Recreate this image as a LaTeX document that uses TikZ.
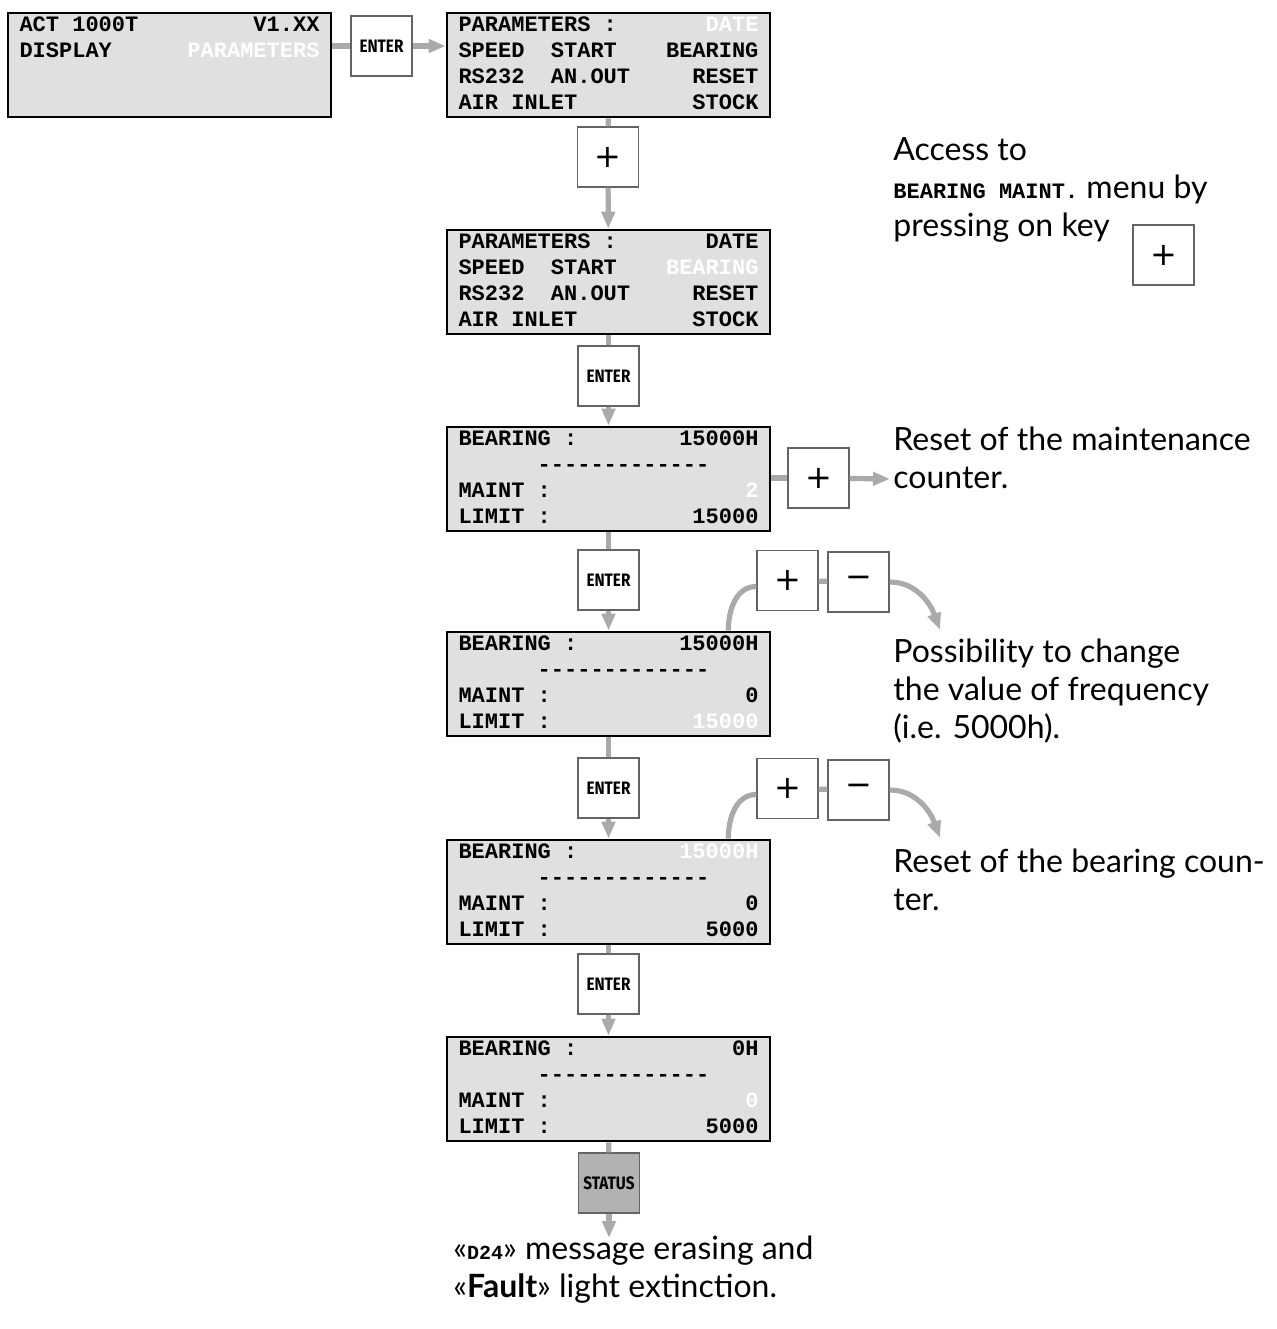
\documentclass[tikz,border=0pt]{standalone}
\usepackage{fontspec}
\setmonofont{Liberation Mono}
\newfontfamily\prosefont{Lato}
\newfontfamily\keyfont{Fira Sans}[FakeStretch=0.85]
\newfontfamily\symfont{DejaVu Sans}
\usetikzlibrary{arrows.meta}
\definecolor{lcdfill}{RGB}{224,224,224}
\definecolor{linkgray}{RGB}{170,170,170}
\definecolor{keyedge}{RGB}{100,100,100}
\definecolor{statusfill}{RGB}{178,178,178}
\newcommand\lcdrow[2]{\makebox[150pt]{\strut#1\hfill#2}}
\newcommand\wht[1]{\textcolor{white}{#1}}
\newcommand\lcddash{\lcdrow{\phantom{XXXXXX}-------------}{}}
\newcommand\lcdtt[1]{{\ttfamily\bfseries\fontsize{11}{13}\selectfont#1}}
\begin{document}
\begin{tikzpicture}[x=0.5pt,y=-0.5pt,
  lcd/.style={draw,line width=1.3pt,fill=lcdfill,inner sep=0pt,
    minimum width=161.5pt,minimum height=51.5pt,align=left,
    font=\ttfamily\bfseries\fontsize{11}{13}\selectfont},
  key/.style={draw=keyedge,line width=0.7pt,fill=white,inner sep=0pt,
    minimum width=30.5pt,minimum height=30pt},
  enter/.style={key,font=\keyfont\bfseries\fontsize{9}{9}\selectfont},
  sign/.style={key,font=\symfont\fontsize{16}{16}\selectfont},
  link/.style={draw=linkgray,line width=2.6pt},
  tip/.style={link,-{Triangle[width=6.5pt,length=8.5pt]}},
  note/.style={font=\prosefont\fontsize{16}{19}\selectfont,align=left,inner sep=0pt}]
\useasboundingbox (0,0) rectangle (1277,1329);

\node[lcd] (lcdMain) at (169.5,65) {\lcdrow{ACT 1000T}{V1.XX}\\\lcdrow{DISPLAY}{\wht{PARAMETERS}}\\\lcdrow{}{}\\\lcdrow{}{}};
\node[lcd] (lcdParam) at (608.5,65) {\lcdrow{PARAMETERS :}{\wht{DATE}}\\\lcdrow{SPEED~~START}{BEARING}\\\lcdrow{RS232~~AN.OUT}{RESET}\\\lcdrow{AIR INLET}{STOCK}};
\node[lcd] (lcdBearSel) at (608.5,282) {\lcdrow{PARAMETERS :}{DATE}\\\lcdrow{SPEED~~START}{\wht{BEARING}}\\\lcdrow{RS232~~AN.OUT}{RESET}\\\lcdrow{AIR INLET}{STOCK}};
\node[lcd] (lcdReset) at (608.5,479) {\lcdrow{BEARING :}{15000H}\\\lcddash\\\lcdrow{MAINT :}{\wht{2}}\\\lcdrow{LIMIT :}{15000}};
\node[lcd] (lcdLimit) at (608.5,684) {\lcdrow{BEARING :}{15000H}\\\lcddash\\\lcdrow{MAINT :}{0}\\\lcdrow{LIMIT :}{\wht{15000}}};
\node[lcd] (lcdCount) at (608.5,892) {\lcdrow{BEARING :}{\wht{15000H}}\\\lcddash\\\lcdrow{MAINT :}{0}\\\lcdrow{LIMIT :}{5000}};
\node[lcd] (lcdClear) at (608.5,1089) {\lcdrow{BEARING :}{0H}\\\lcddash\\\lcdrow{MAINT :}{\wht{0}}\\\lcdrow{LIMIT :}{5000}};

\foreach \nm/\y in {keyEnterB/376,keyEnterC/580,keyEnterD/788,keyEnterE/984}
  \node[enter] (\nm) at (608.5,\y) {ENTER};
\node[enter] (keyEnterA) at (381.5,46) {ENTER};
\node[enter,fill=statusfill] (keyStatus) at (609,1183) {STATUS};
\foreach \nm/\x/\y in {keyPlusA/608/157,keyPlusB/818.5/478,keyPlusC/787.5/580.5,keyPlusD/787.5/788.5,accessKey/1163.5/255}
  \node[sign] (\nm) at (\x,\y) {+};
\foreach \nm/\y in {keyMinusC/582,keyMinusD/790}
  \node[sign] (\nm) at (858.5,\y) {−};

\coordinate (resetEnd) at (890,479);
\coordinate (arcEndC) at (940,630);
\coordinate (arcEndD) at (940,838);
\coordinate (statusEnd) at (609,1238);

\draw[link] (lcdMain.east |- keyEnterA) -- (keyEnterA);
\draw[tip] (keyEnterA) -- (keyEnterA -| lcdParam.west);
\foreach \a/\k/\b in {lcdParam/keyPlusA/lcdBearSel,lcdBearSel/keyEnterB/lcdReset,
    lcdReset/keyEnterC/lcdLimit,lcdLimit/keyEnterD/lcdCount,
    lcdCount/keyEnterE/lcdClear,lcdClear/keyStatus/statusEnd}{
  \draw[link] (\a) -- (\k);
  \draw[tip] (\k) -- (\b);
}
\draw[link] (lcdReset.east |- keyPlusB) -- (keyPlusB);
\draw[tip] (keyPlusB) -- (resetEnd);
\draw[link] ([xshift=-21.5pt]lcdLimit.north east) to[out=90,in=180] ([yshift=-3pt]keyPlusC.west);
\draw[link] (keyPlusC) -- (keyMinusC);
\draw[tip] (keyMinusC.east) to[out=0,in=110] (arcEndC);
\draw[link] ([xshift=-21.5pt]lcdCount.north east) to[out=90,in=180] ([yshift=-3pt]keyPlusD.west);
\draw[link] (keyPlusD) -- (keyMinusD);
\draw[tip] (keyMinusD.east) to[out=0,in=110] (arcEndD);

\node[note,anchor=base west] (noteAccess) at (893,236) {Access to\\\lcdtt{BEARING MAINT.} menu by\\pressing on key};
\node[note,anchor=base west] (noteReset) at (893,488) {Reset of the maintenance\\counter.};
\node[note,anchor=base west] (noteLimit) at (893,738) {Possibility to change\\the value of frequency\\(i.e. 5000h).};
\node[note,anchor=base west] (noteCount) at (893,910) {Reset of the bearing coun-\\ter.};
\node[note,anchor=base west] (noteStatus) at (453,1297) {«{\ttfamily\bfseries\fontsize{10}{10}\selectfont D24}» message erasing and\\«\textbf{Fault}» light extinction.};
\end{tikzpicture}
\end{document}
